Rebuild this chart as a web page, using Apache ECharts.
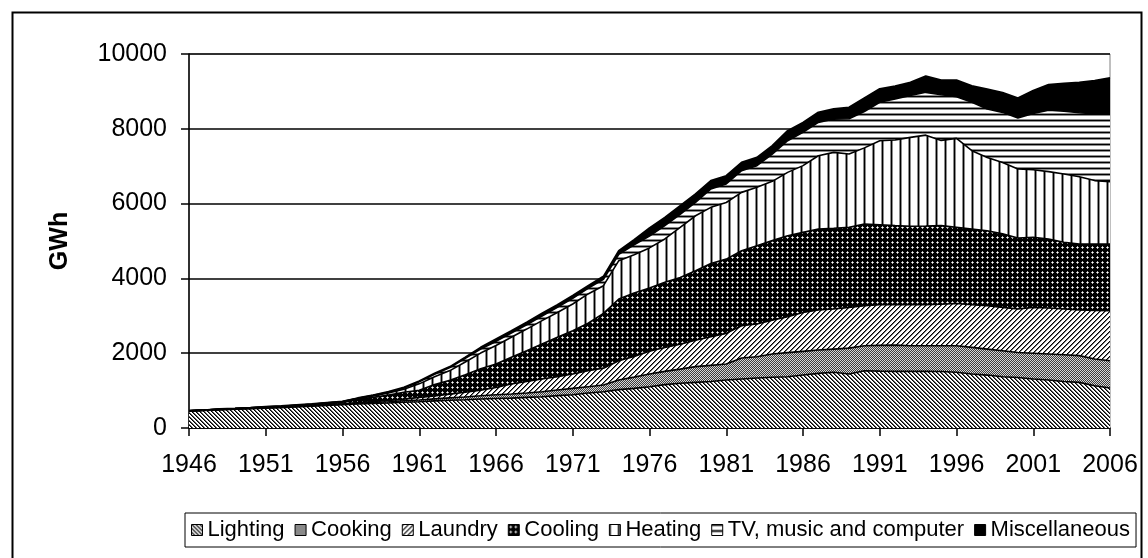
<!DOCTYPE html>
<html>
<head>
<meta charset="utf-8">
<title>GWh by end use</title>
<script src="https://cdn.jsdelivr.net/npm/echarts@6/dist/echarts.min.js"></script>
<style>
    html, body { margin: 0; padding: 0; background: #fff; }
    #main { width: 1148px; height: 558px; }
</style>
</head>
<body>
<div id="main"></div>
<script>
// 年份 1946-2006
var years = [];
for (var y = 1946; y <= 2006; y++) years.push(String(y));

var seriesNames = ['Lighting', 'Cooking', 'Laundry', 'Cooling', 'Heating', 'TV, music and computer', 'Miscellaneous'];

var lighting = [455, 470, 485, 500, 515, 530, 545, 565, 585, 605,
    620, 640, 655, 670, 690, 700, 725, 740, 755, 775,
    790, 800, 820, 835, 865, 890, 935, 970, 1025, 1060,
    1105, 1160, 1195, 1220, 1245, 1285, 1310, 1335, 1355, 1370,
    1415, 1460, 1490, 1445, 1530, 1520, 1515, 1515, 1515, 1510,
    1490, 1445, 1415, 1370, 1350, 1310, 1285, 1245, 1220, 1130,
    1070];
var cooking = [5, 5, 8, 8, 8, 10, 10, 12, 12, 14,
    16, 20, 25, 30, 38, 50, 55, 65, 75, 88,
    100, 110, 115, 135, 150, 170, 170, 180, 260, 300,
    340, 355, 380, 420, 430, 425, 560, 570, 625, 645,
    635, 625, 620, 690, 670, 690, 700, 685, 685, 690,
    710, 710, 695, 695, 670, 690, 695, 715, 715, 715,
    730];
var laundry = [3, 3, 5, 5, 6, 8, 8, 10, 10, 12,
    14, 20, 28, 35, 45, 70, 80, 100, 125, 150,
    195, 265, 310, 340, 355, 385, 425, 450, 515, 555,
    605, 635, 665, 705, 765, 820, 865, 875, 905, 960,
    1040, 1070, 1070, 1090, 1070, 1090, 1085, 1100, 1100, 1110,
    1130, 1140, 1160, 1160, 1160, 1225, 1230, 1220, 1220, 1295,
    1335];
var cooling = [0, 0, 5, 5, 6, 10, 12, 14, 18, 28,
    40, 80, 110, 145, 185, 190, 300, 370, 470, 570,
    625, 715, 820, 935, 1055, 1155, 1270, 1465, 1650, 1695,
    1695, 1745, 1785, 1860, 1960, 1985, 2005, 2095, 2125, 2165,
    2140, 2165, 2160, 2140, 2185, 2135, 2110, 2095, 2100, 2100,
    2035, 2025, 2005, 1965, 1900, 1875, 1845, 1785, 1765, 1780,
    1785];
var heating = [0, 0, 0, 2, 3, 4, 5, 5, 6, 8,
    10, 25, 40, 55, 80, 170, 210, 260, 340, 420,
    495, 535, 580, 625, 665, 715, 785, 740, 1025, 1025,
    1070, 1160, 1340, 1470, 1500, 1515, 1560, 1560, 1585, 1695,
    1785, 1960, 2030, 1960, 2035, 2245, 2290, 2375, 2430, 2280,
    2380, 2095, 1960, 1910, 1845, 1805, 1800, 1825, 1800, 1695,
    1665];
var tv = [0, 0, 0, 0, 0, 3, 3, 4, 5, 5,
    6, 10, 15, 22, 32, 55, 65, 80, 95, 110,
    110, 115, 115, 120, 135, 150, 150, 170, 170, 265,
    315, 355, 350, 355, 490, 495, 580, 580, 730, 845,
    890, 890, 890, 945, 970, 1030, 1100, 1120, 1145, 1220,
    1115, 1295, 1295, 1340, 1365, 1505, 1645, 1680, 1710, 1785,
    1815];
var misc = [0, 2, 5, 5, 5, 5, 5, 5, 6, 5,
    6, 7, 9, 13, 15, 20, 25, 25, 30, 42,
    65, 60, 65, 75, 70, 75, 70, 80, 95, 135,
    220, 220, 230, 230, 225, 220, 220, 220, 225, 270,
    265, 270, 270, 305, 365, 360, 340, 350, 435, 390,
    440, 440, 530, 530, 530, 610, 680, 745, 810, 890,
    960];

var yTicks = [0, 2000, 4000, 6000, 8000, 10000];

// 画图案填充
function makePattern(w, h, shade) {
    var c = document.createElement('canvas');
    c.width = w;
    c.height = h;
    var ctx = c.getContext('2d');
    var img = ctx.createImageData(w, h);
    for (var py = 0; py < h; py++) {
        for (var px = 0; px < w; px++) {
            var g = shade(px, py);
            var i = (py * w + px) * 4;
            img.data[i] = g;
            img.data[i + 1] = g;
            img.data[i + 2] = g;
            img.data[i + 3] = 255;
        }
    }
    ctx.putImageData(img, 0, 0);
    return { image: c, repeat: 'repeat' };
}

var patterns = [
    // 照明 \\\
    makePattern(4, 4, function(x, y) {
        var v = ((x - y) % 4 + 4) % 4;
        return v === 0 ? 0 : (v === 1 ? 90 : 255);
    }),
    // 炊事 细网点
    makePattern(2, 2, function(x, y) {
        return (x + y) % 2 ? 60 : 215;
    }),
    // 洗衣 ///
    makePattern(5, 5, function(x, y) {
        var v = (x + y) % 5;
        return v === 0 ? 0 : (v === 1 ? 110 : 255);
    }),
    // 制冷 黑底白点
    makePattern(5, 5, function(x, y) {
        if (x === 2 && y === 2) return 255;
        if ((x === 2 && (y === 1 || y === 3)) || (y === 2 && (x === 1 || x === 3))) return 170;
        return 0;
    }),
    // 采暖 竖线
    makePattern(9, 1, function(x, y) {
        return x === 0 ? 0 : (x === 1 || x === 8 ? 140 : 255);
    }),
    // 电视 横线
    makePattern(1, 6, function(x, y) {
        return y === 0 ? 0 : (y === 1 || y === 5 ? 140 : 255);
    }),
    // 其他 纯黑
    '#000'
];

var seriesData = [lighting, cooking, laundry, cooling, heating, tv, misc];

var sans = "'Liberation Sans', Arial, sans-serif";

(function() {
    var myechart = echarts.init(document.getElementById('main'), null, { renderer: 'canvas' });

    var series = seriesData.map(function(d, i) {
        return {
            name: seriesNames[i],
            type: 'line',
            stack: 'total',
            data: d,
            symbol: 'none',
            smooth: false,
            itemStyle: { color: patterns[i], borderColor: '#000', borderWidth: 1 },
            lineStyle: { color: '#000', width: i === 6 ? 1.8 : 1.6 },
            areaStyle: { color: patterns[i], opacity: 1 },
            emphasis: { disabled: true },
            z: 2
        };
    });

    var option = {
        animation: false,
        backgroundColor: '#fff',
        grid: {
            left: 189,
            right: 38,
            top: 54,
            bottom: 130,
            show: true,
            borderColor: '#808080',
            borderWidth: 1,
            backgroundColor: 'transparent'
        },
        legend: {
            data: seriesNames,
            left: 185,
            top: 513,
            padding: [6, 6, 6, 6],
            itemGap: 10,
            itemWidth: 11,
            itemHeight: 11,
            icon: 'rect',
            borderColor: '#000',
            borderWidth: 1,
            itemStyle: { borderColor: '#000', borderWidth: 1 },
            textStyle: { color: '#000', fontSize: 22, fontFamily: sans }
        },
        xAxis: {
            type: 'category',
            data: years,
            boundaryGap: false,
            axisLine: { lineStyle: { color: '#000', width: 1.5 } },
            axisTick: { show: true, interval: 4, length: 8, lineStyle: { color: '#000', width: 1.5 } },
            axisLabel: {
                interval: 4,
                margin: 25,
                color: '#000',
                fontSize: 25,
                fontFamily: sans
            },
            splitLine: { show: false }
        },
        yAxis: {
            type: 'value',
            min: yTicks[0],
            max: yTicks[yTicks.length - 1],
            interval: 2000,
            name: 'GWh',
            nameLocation: 'middle',
            nameRotate: 90,
            nameGap: 116,
            nameTextStyle: { color: '#000', fontSize: 25, fontWeight: 'bold', fontFamily: sans },
            axisLine: { show: true, lineStyle: { color: '#000', width: 1.5 } },
            axisTick: { show: true, length: 8, lineStyle: { color: '#000', width: 1.5 } },
            axisLabel: {
                margin: 22,
                color: '#000',
                fontSize: 25,
                fontFamily: sans,
                formatter: function(v) { return String(v); }
            },
            splitLine: { show: true, lineStyle: { color: '#000', width: 1.5 } }
        },
        graphic: [{
            type: 'rect',
            shape: { x: 12.5, y: 12.5, width: 1129, height: 600 },
            style: { fill: 'none', stroke: '#000', lineWidth: 2 },
            silent: true,
            z: 100
        }],
        series: series
    };
    myechart.setOption(option);
})();
</script>
</body>
</html>
